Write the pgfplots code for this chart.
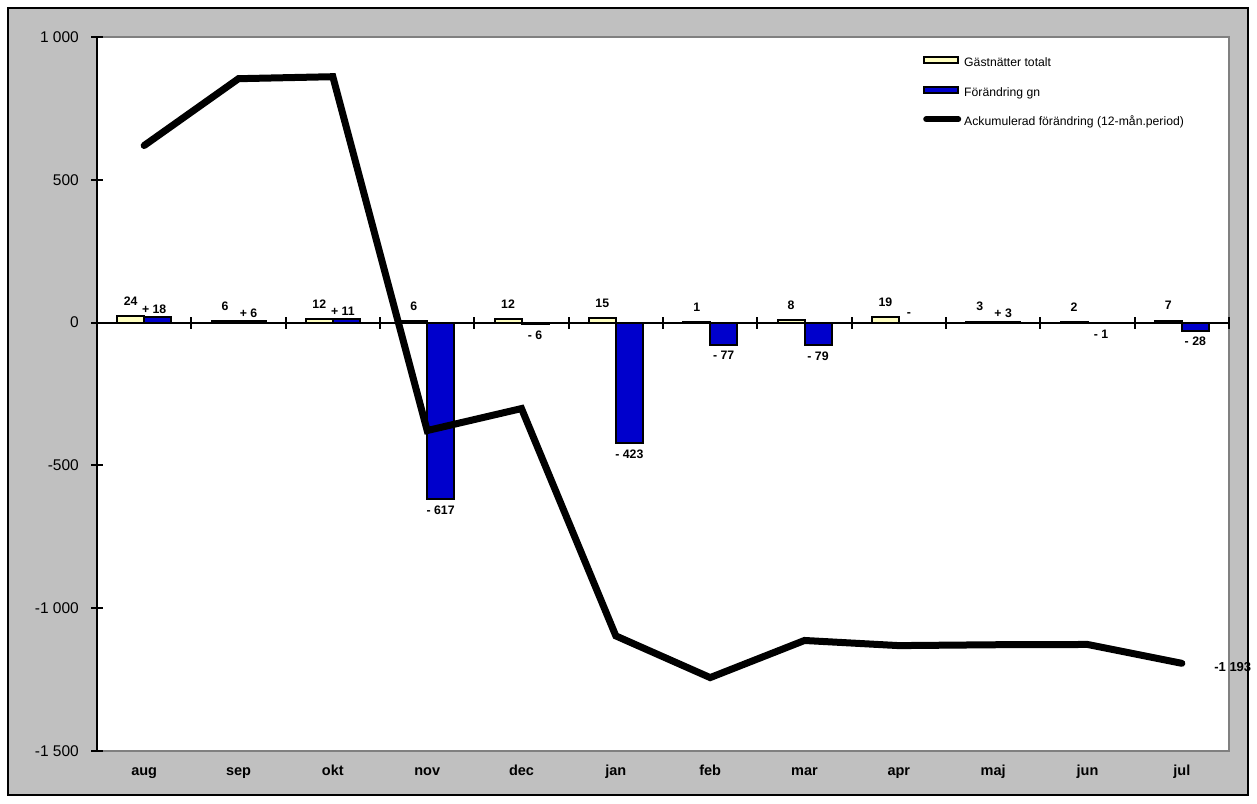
\documentclass[border=0pt]{standalone}
\usepackage{pgfplots}
\pgfplotsset{compat=1.18}
\usepackage{pgfplotstable}
\usepackage{fontspec}
\setmainfont{Liberation Sans}
\definecolor{frameGray}{RGB}{192,192,192}
\definecolor{shadowGray}{RGB}{128,128,128}
\definecolor{barYellow}{RGB}{255,255,192}
\definecolor{barBlue}{RGB}{0,0,204}

\pgfplotstableread{
x gast glab
0 24 24
1 6 6
2 12 12
3 6 6
4 12 12
5 15 15
6 1 1
7 8 8
8 19 19
9 3 3
10 2 2
11 7 7
}\gastdata

\pgfplotstableread[col sep=comma]{
x,fp,flab
0,18,+ 18
1,6,+ 6
2,11,+ 11
8,0,-
9,3,+ 3
}\forpos

\pgfplotstableread[col sep=comma]{
x,fn,flab
3,-617,- 617
4,-6,- 6
5,-423,- 423
6,-77,- 77
7,-79,- 79
10,-1,- 1
11,-28,- 28
}\forneg

\pgfplotstableread[col sep=comma]{
x,ack,alab
0,620,{}
1,854,{}
2,861,{}
3,-378,{}
4,-301,{}
5,-1097,{}
6,-1243,{}
7,-1113,{}
8,-1131,{}
9,-1128,{}
10,-1127,{}
11,-1193,-1 193
}\ackdata

\begin{document}
\begin{tikzpicture}
\useasboundingbox (0,0) rectangle (1257pt,803pt);
\draw[line width=2pt, fill=frameGray] (8pt,8pt) rectangle (1248pt,795pt);
\begin{axis}[
  at={(97pt,52pt)}, anchor=south west,
  scale only axis, width=1132pt, height=714pt,
  xmin=-0.5, xmax=11.5, ymin=-1500, ymax=1000,
  axis background/.style={fill=white, draw=shadowGray, line width=2pt},
  axis x line*=middle, axis y line*=left,
  axis line style={line width=2pt, black},
  xtick={-0.5,0.5,...,11.5}, xticklabels={},
  ytick={-1500,-1000,-500,0,500,1000},
  yticklabels={-1 500,-1 000,-500,0,500,1 000},
  tick align=center, major tick length=12pt,
  tick style={line width=2pt, black},
  yticklabel style={font=\fontsize{15.5}{18}\selectfont, anchor=east, inner sep=0pt, xshift=-12pt},
  clip=false,
  legend cell align=left,
  legend style={at={(0.7297,0.9734)}, anchor=north west, draw=none, fill=none,
    inner sep=0pt, row sep=16.5pt, column sep=3pt,
    nodes={inner sep=0pt, text height=9pt, text depth=3pt, font=\fontsize{12.2}{14}\selectfont}},
]
\addplot[ybar, bar width=27pt, bar shift=-13.5pt, fill=barYellow, draw=black, line width=2pt,
  point meta=explicit symbolic, nodes near coords,
  every node near coord/.append style={anchor=center, inner sep=0pt, yshift=15pt, xshift=-13.5pt,
     font=\fontsize{12.3}{14}\selectfont\bfseries},
  legend image code/.code={\draw[fill=barYellow, draw=black, line width=2pt] (0pt,0.5pt) rectangle (34pt,6.5pt);}]
  table[x=x, y=gast, meta=glab] {\gastdata};
\addlegendentry{Gästnätter totalt}
\addplot[ybar, bar width=27pt, bar shift=13.5pt, fill=barBlue, draw=black, line width=2pt,
  point meta=explicit symbolic, nodes near coords,
  every node near coord/.append style={anchor=center, inner sep=0pt, yshift=8pt, xshift=10pt,
     font=\fontsize{12.3}{14}\selectfont\bfseries},
  legend image code/.code={\draw[fill=barBlue, draw=black, line width=2pt] (0pt,0.5pt) rectangle (34pt,6.5pt);}]
  table[x=x, y=fp, meta=flab] {\forpos};
\addlegendentry{Förändring gn}
\addplot[ybar, bar width=27pt, bar shift=13.5pt, fill=barBlue, draw=black, line width=2pt,
  forget plot,
  point meta=explicit symbolic, nodes near coords,
  every node near coord/.append style={anchor=center, inner sep=0pt, yshift=-11pt, xshift=13.5pt,
     font=\fontsize{12.3}{14}\selectfont\bfseries}]
  table[x=x, y=fn, meta=flab] {\forneg};
\addplot[sharp plot, black, line width=7pt, line cap=round, mark=none,
  point meta=explicit symbolic, nodes near coords,
  every node near coord/.append style={anchor=west, inner sep=0pt, xshift=29pt, yshift=-4pt,
     font=\fontsize{13}{15}\selectfont\bfseries},
  legend image code/.code={\draw[black, line width=6pt, line cap=round] (2pt,3.5pt) -- (34pt,3.5pt);}]
  table[x=x, y=ack, meta=alab] {\ackdata};
\addlegendentry{Ackumulerad förändring (12-mån.period)}
\foreach \i/\lab in {0/aug,1/sep,2/okt,3/nov,4/dec,5/jan,6/feb,7/mar,8/apr,9/maj,10/jun,11/jul}{
  \edef\temp{\noexpand\node[anchor=base, inner sep=0pt, yshift=-24pt, font=\noexpand\fontsize{14.5}{17}\noexpand\selectfont\noexpand\bfseries] at (axis cs:\i,-1500) {\lab};}
  \temp
}
\end{axis}
\end{tikzpicture}
\end{document}
